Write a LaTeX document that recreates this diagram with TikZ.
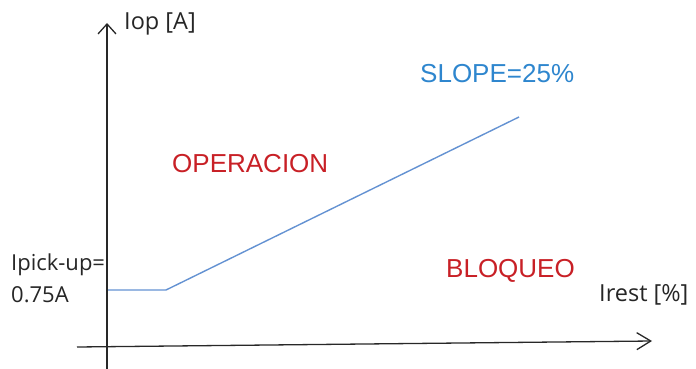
\documentclass[tikz,border=0pt]{standalone}
\usepackage{fontspec}
\setmainfont{Liberation Sans}
\newfontfamily\uifont{Open Sans}
\usetikzlibrary{arrows.meta}
\definecolor{opred}{RGB}{200,32,38}
\definecolor{slopeblue}{RGB}{46,134,206}
\definecolor{lineblue}{RGB}{100,146,210}
\definecolor{axisgray}{RGB}{40,40,40}
\begin{document}
\begin{tikzpicture}[x=1pt,y=-1pt,
  axis/.style={draw=axisgray,line width=1.3pt},
  curve/.style={draw=lineblue,line width=1.4pt},
  axlabel/.style={inner sep=0pt,anchor=west,font=\uifont\fontsize{23.5}{26}\selectfont,text=black!85},
  picklabel/.style={inner sep=0pt,anchor=west,font=\uifont\fontsize{22}{25}\selectfont,text=black!85},
  region/.style={inner sep=0pt,anchor=west,font=\fontsize{26}{30}\selectfont,text=opred}]
\useasboundingbox (0,0) rectangle (696,369);
% axes
\coordinate (ybot) at (107,369);
\coordinate (ytop) at (107,23);
\coordinate (xleft) at (77,347);
\coordinate (xright) at (652,341);
\draw[axis,-{Straight Barb[length=10pt,width=18pt,line width=1.3pt]}] (ybot) -- (ytop);
\draw[axis,-{Straight Barb[length=14pt,width=17pt,line width=1.3pt]}] (xleft) -- (xright);
% characteristic
\coordinate (c0) at (108,290);
\coordinate (c1) at (166,290);
\coordinate (c2) at (519,117);
\draw[curve] (c0) -- (c1) -- (c2);
% labels
\node[axlabel] (iop) at (124,24) {Iop [A]};
\node[axlabel] (irest) at (599,295) {Irest [\%]};
\node[picklabel] (ipick) at (11,265) {Ipick-up=};
\node[picklabel] (ival) at (11,295) {0.75A};
\node[region,text=slopeblue] (slope) at (420,74) {SLOPE=25\%};
\node[region] (oper) at (172,164) {OPERACION};
\node[region] (bloq) at (446,271) {BLOQUEO};
\end{tikzpicture}
\end{document}
